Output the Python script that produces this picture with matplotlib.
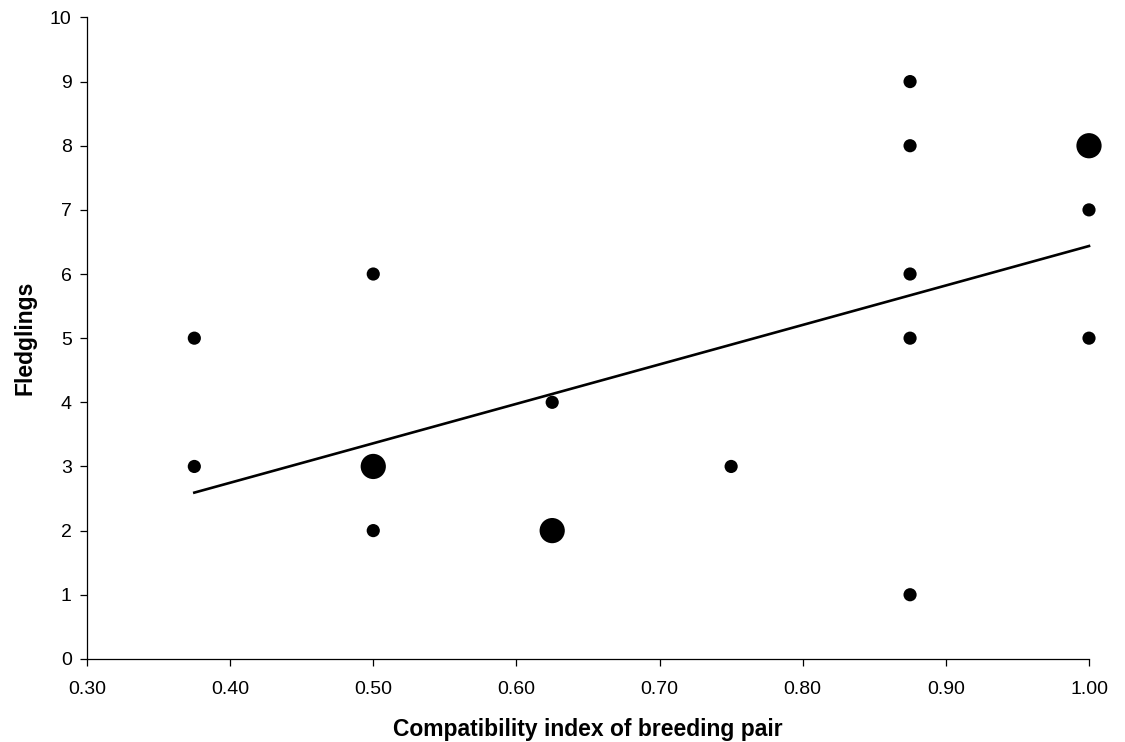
import numpy as np
import matplotlib
matplotlib.use('Agg')
import matplotlib.pyplot as plt

plt.rcParams['font.family'] = ['Liberation Sans', 'DejaVu Sans']

# data: compatibility index, fledglings, number of pairs at that point
compat = [0.375, 0.375, 0.5, 0.5, 0.5, 0.625, 0.625, 0.75,
          0.875, 0.875, 0.875, 0.875, 0.875, 1.0, 1.0, 1.0]
fledglings = [5, 3, 6, 3, 2, 4, 2, 3, 9, 8, 6, 5, 1, 8, 7, 5]
counts = [1, 1, 1, 2, 1, 1, 2, 1, 1, 1, 1, 1, 1, 2, 1, 1]

x_ticks = [0.30, 0.40, 0.50, 0.60, 0.70, 0.80, 0.90, 1.00]
y_ticks = list(range(0, 11))

compat = np.array(compat)
fledglings = np.array(fledglings)
counts = np.array(counts)

fig = plt.figure(figsize=(11.25, 7.42), dpi=100)
ax = fig.add_axes([0.0773, 0.112, 0.8907, 0.8645])

sizes = np.where(counts > 1, 330, 90)
ax.scatter(compat, fledglings, s=sizes, c='black', linewidths=0, zorder=3, clip_on=False)

# least squares fit, each pair counted once
xs = np.repeat(compat, counts)
ys = np.repeat(fledglings, counts)
slope, intercept = np.polyfit(xs, ys, 1)
xl = np.array([xs.min(), xs.max()])
ax.plot(xl, slope * xl + intercept, color='black', lw=1.9, zorder=2, clip_on=False)

ax.set_xlim(0.30, 1.00)
ax.set_ylim(0, 10)
ax.set_xticks(x_ticks)
ax.set_xticklabels(['%.2f' % v for v in x_ticks])
ax.set_yticks(y_ticks)

for s in ['top', 'right']:
    ax.spines[s].set_visible(False)
for s in ['left', 'bottom']:
    ax.spines[s].set_linewidth(0.9)

ax.tick_params(direction='out', length=5, width=0.9, labelsize=14)
ax.tick_params(axis='x', pad=11)
ax.tick_params(axis='y', pad=6)
ax.set_xlabel('Compatibility index of breeding pair', fontsize=16.5, fontweight='bold', labelpad=14)
ax.set_ylabel('Fledglings', fontsize=16.5, fontweight='bold', labelpad=10)

fig.savefig('out.png', dpi=100)
